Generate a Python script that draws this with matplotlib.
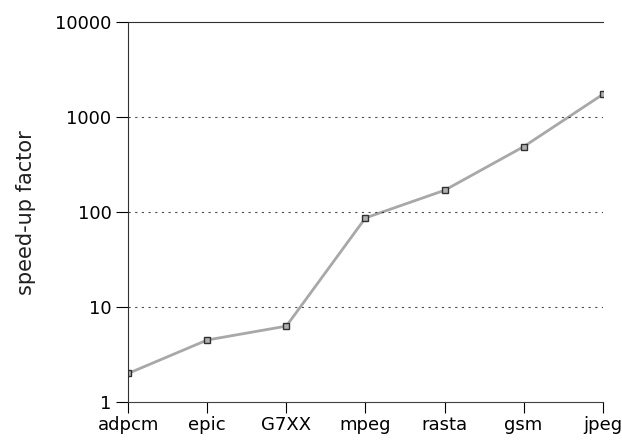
import numpy as np
import matplotlib
matplotlib.use("Agg")
import matplotlib.pyplot as plt

benchmarks = ["adpcm", "epic", "G7XX", "mpeg", "rasta", "gsm", "jpeg"]
speedup = [2.0, 4.5, 6.3, 87, 170, 490, 1740]
yticks = [1, 10, 100, 1000, 10000]
ylabels = ["1", "10", "100", "1000", "10000"]

fig = plt.figure(figsize=(6.22, 4.44), dpi=100)
ax = fig.add_axes([0.206, 0.0946, 0.763, 0.855])

x = np.arange(len(benchmarks))
ax.plot(x, speedup, color="#a8a8a8", lw=2, marker="s", ms=5,
        markerfacecolor="#b0b0b0", markeredgecolor="#303030", markeredgewidth=1)

ax.set_yscale("log")
ax.set_ylim(1, 10000)
ax.set_xlim(0, len(benchmarks) - 1)
ax.set_yticks(yticks)
ax.set_yticklabels(ylabels)
ax.minorticks_off()
ax.set_xticks(x)
ax.set_xticklabels(benchmarks)

# dotted guide lines
for yv in [10, 100, 1000]:
    ax.axhline(yv, color="black", lw=0.8, ls=(0, (2, 4)), alpha=0.7)

ax.spines["right"].set_visible(False)
ax.spines["top"].set_color("#303030")
ax.spines["left"].set_color("#303030")
ax.spines["bottom"].set_color("#404040")
ax.tick_params(axis="y", length=9, width=0.8, labelsize=13, pad=3)
ax.tick_params(axis="x", length=8, width=0.8, labelsize=13, pad=2)

ax.set_ylabel("speed-up factor", fontsize=15, color="#202020", labelpad=14)

fig.savefig("out.png", dpi=100)
